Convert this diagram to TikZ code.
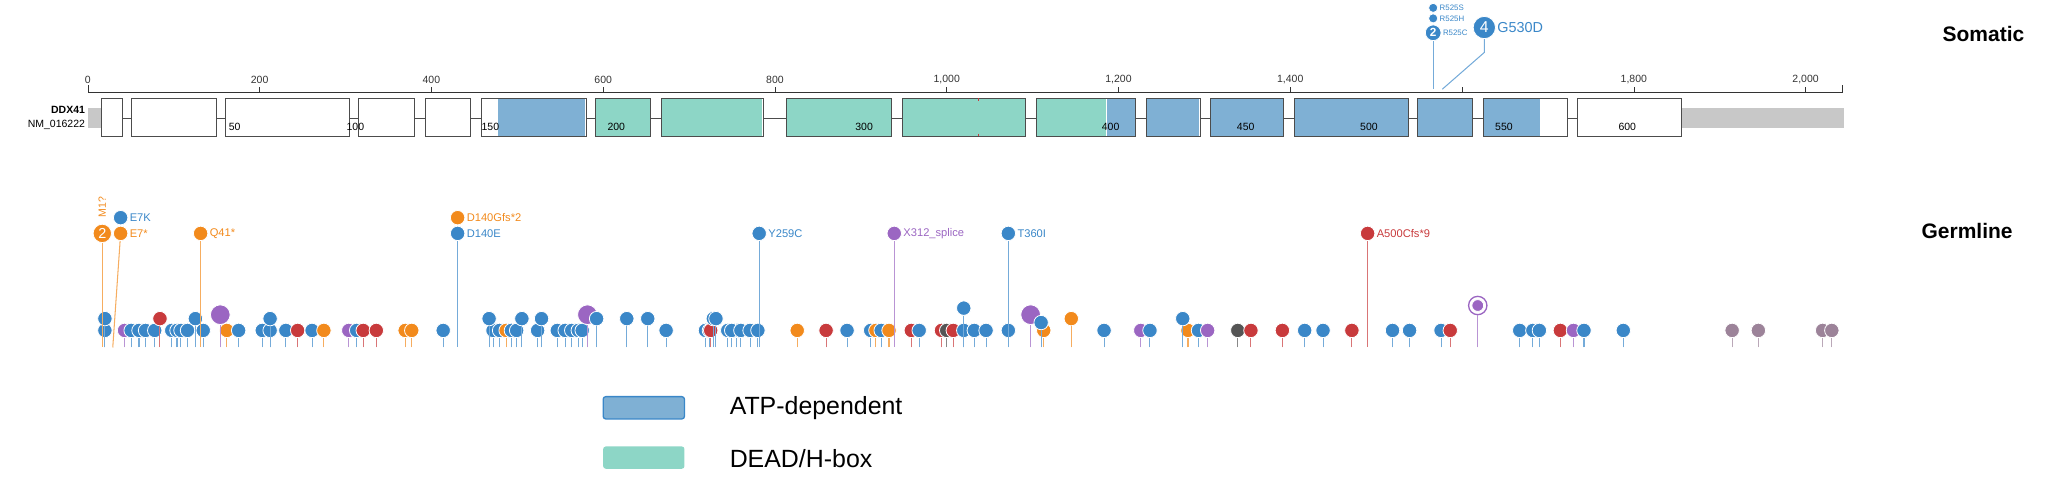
\documentclass[tikz,border=0pt]{standalone}
\usepackage{fontspec}
\setmainfont{Liberation Sans}
\usetikzlibrary{positioning}
\definecolor{domblue}{HTML}{7FB0D4}
\definecolor{domteal}{HTML}{8DD6C6}
\definecolor{mb}{HTML}{3A87C8}
\definecolor{mo}{HTML}{F28A1C}
\definecolor{mr}{HTML}{C83A3C}
\definecolor{mp}{HTML}{9B66C2}
\definecolor{mm}{HTML}{9C8399}
\definecolor{mk}{HTML}{555555}
\definecolor{axisgray}{HTML}{C8C8C8}
\tikzset{
  exon/.style={draw=black!70,fill=white},
  pop/.style={circle,fill=#1,draw=white,line width=0.6pt,inner sep=0pt,minimum size=11pt},
  stem/.style={draw=#1!70,line width=0.8pt},
  tag/.style={font=\fontsize{8.5}{9}\selectfont,text=#1,anchor=west,inner sep=1pt},
  ticklbl/.style={font=\fontsize{8}{9}\selectfont,inner sep=0pt}
}
\begin{document}
\begin{tikzpicture}[x=1pt,y=-1pt]
  \useasboundingbox (0,0) rectangle (1568,366);
  % somatic axis
  \draw[black!80] (67,65) -- (67,70) -- (1405,70) -- (1405,65);
  \foreach \t/\l in {0/0,1/200,2/400,3/600,4/800,5/{1,000},6/{1,200},7/{1,400},9/{1,800},10/{2,000}}
    \draw[black!80] (67+131*\t,70) -- (67+131*\t,66) node[ticklbl,above=2pt] {\l};
  \draw[black!80] (67+131*8,70) -- (67+131*8,66);
  % transcript
  \fill[axisgray] (67,82) rectangle (77,98);
  \fill[axisgray] (1282,82) rectangle (1406,98);
  \draw[black!70] (77,90) -- (1282,90);
  \foreach \a/\b in {77/93,100/165,172/266,273/316,324/359,367/447,454/496,504/582,600/680,688/782,790/866,874/915,923/979,987/1074,1081/1123,1131/1195,1203/1282}
    \draw[exon] (\a,75) rectangle (\b,104);
  % domains
  \fill[domblue] (380,75.5) rectangle (446.5,103.5);
  \foreach \a/\b in {454/496,504/582,600/680,688/782,790/844}
    \fill[domteal] (\a+0.5,75.5) rectangle (\b-0.5,103.5);
  \fill[domblue] (844,75.5) rectangle (865.5,103.5);
  \foreach \a/\b in {874/915,923/979,987/1074,1081/1123,1131/1175}
    \fill[domblue] (\a+0.5,75.5) rectangle (\b-0.5,103.5);
  \foreach \a/\b in {454/496,504/582,600/680,688/782,790/866,874/915,923/979,987/1074,1081/1123,1131/1195}
    \draw[black!70] (\a,75) rectangle (\b,104);
  \draw[mr,line width=1pt] (746,75) -- (746,77) (746,102) -- (746,104);
  \foreach \x/\l in {179/50,271/100,374/150,470/200,659/300,847/400,950/450,1044/500,1147/550,1241/600}
    \node[ticklbl] at (\x,97) {\l};
  \node[font=\fontsize{8}{9}\selectfont\bfseries,anchor=east,inner sep=0pt] (gene) at (65,84) {DDX41};
  \node[font=\fontsize{8}{9}\selectfont,anchor=east,inner sep=0pt] (nm) at (65,95) {NM\_016222};
  % somatic lollipops
  \node[pop=mb,minimum size=12pt,text=white,font=\fontsize{9}{9}\selectfont\bfseries] (s525c) at (1093,25) {2};
  \node[pop=mb,minimum size=7pt] (s525h) at (1093,14) {};
  \node[pop=mb,minimum size=7pt] (s525s) at (1093,6) {};
  \node[tag=mb,font=\fontsize{6}{6}\selectfont] at (s525c.east) {R525C};
  \node[tag=mb,font=\fontsize{6}{6}\selectfont] at (s525h.east) {R525H};
  \node[tag=mb,font=\fontsize{6}{6}\selectfont] at (s525s.east) {R525S};
  \node[pop=mb,minimum size=17pt,text=white,font=\fontsize{12}{12}\selectfont] (s530) at (1132,21) {4};
  \node[tag=mb,font=\fontsize{11}{11}\selectfont] at (s530.east) {G530D};
  \coordinate (b525) at (1093,68);
  \coordinate (b530) at (1100,68);
  \draw[stem=mb] (s525c) -- (b525);
  \draw[stem=mb] (s530) -- (1132,40) -- (b530);
  \node[font=\fontsize{16}{16}\selectfont\bfseries,anchor=west] (somatic) at (1478,26) {Somatic};
  \node[font=\fontsize{16}{16}\selectfont\bfseries,anchor=west] (germline) at (1462,176) {Germline};
  % germline lollipops, lower row
  \foreach \x/\c in {80/mb,95/mp,100/mb,106/mb,111/mb,118/mb,131/mb,135/mb,138/mb,143/mb,155/mb,173/mo,182/mb,200/mb,206/mb,218/mb,227/mr,238/mb,247/mo,266/mp,272/mb,277/mr,287/mr,309/mo,314/mo,338/mb,376/mb,381/mb,386/mo,390/mb,394/mb,410/mb,425/mb,431/mb,436/mb,441/mb,444/mb,508/mb,538/mb,555/mb,562/mb,541/mb,542/mr,558/mb,565/mb,572/mb,578/mb,608/mo,630/mr,646/mb,664/mb,668/mo,672/mb,678/mo,695/mr,701/mb,718/mr,722/mk,727/mr,735/mb,743/mb,752/mb,769/mb,796/mo,842/mb,870/mp,877/mb,906/mo,914/mb,921/mp,944/mk,954/mr,978/mr,995/mb,1009/mb,1031/mr,1062/mb,1075/mb,1099/mb,1106/mr,1159/mb,1169/mb,1174/mb,1190/mr,1200/mp,1208/mb,1238/mb,1321/mm,1341/mm,1390/mm,1397/mm}
  {
    \node[pop=\c] (g\x) at (\x,252) {};
    \draw[stem=\c] (\x,265) -- (g\x);
  }
  % upper row
  \foreach \x/\y/\c/\s in {80/243/mb/11,122/243/mr/11,149/243/mb/11,168/240/mp/15,206/243/mb/11,373/243/mb/11,398/243/mb/11,413/243/mb/11,448/240/mp/15,455/243/mb/11,478/243/mb/11,494/243/mb/11,544/243/mb/11,546/243/mb/11,735/235/mb/11,786/240/mp/15,794/246/mb/11,817/243/mo/11,902/243/mb/11}
  {
    \node[pop=\c,minimum size=\s pt] (u\x) at (\x,\y) {};
    \draw[stem=\c] (\x,265) -- (u\x);
  }
  \node[circle,draw=mp,fill=white,line width=1pt,minimum size=14pt,inner sep=0pt] (ring) at (1127,233) {};
  \node[pop=mp,minimum size=9pt] at (ring) {};
  \draw[stem=mp] (1127,265) -- (ring);
  % labelled germline lollipops
  \node[pop=mo,minimum size=14pt,text=white,font=\fontsize{11}{11}\selectfont] (m1) at (78,178) {2};
  \node[font=\fontsize{8}{9}\selectfont,text=mo,rotate=90,inner sep=0pt] (m1t) at (78,158) {M1?};
  \draw[stem=mo] (m1) -- (78,265);
  \foreach \n/\x/\y/\bx/\c/\l in {1/92/166/0/mb/E7K,2/92/178/86/mo/E7*,3/153/178/153/mo/Q41*,4/349/166/0/mo/D140Gfs*2,5/349/178/349/mb/D140E,6/579/178/579/mb/Y259C,7/682/178/682/mp/X312\_splice,8/769/178/769/mb/T360I,9/1043/178/1043/mr/A500Cfs*9}
  {
    \node[pop=\c] (t\n) at (\x,\y) {};
    \node[tag=\c] (tl\n) at (t\n.east) {\l};
    \ifnum\bx>0 \draw[stem=\c] (t\n) -- (\bx,265); \fi
  }
  % legend
  \node[draw=mb,fill=domblue,rounded corners=2pt,line width=1pt,minimum width=62pt,minimum height=17pt] (lgatp) at (491,311) {};
  \node[font=\fontsize{19}{19}\selectfont,anchor=west] (lgatpt) at (553,311) {ATP-dependent};
  \node[fill=domteal,rounded corners=2pt,minimum width=62pt,minimum height=17pt] (lgdead) at (491,349) {};
  \node[font=\fontsize{19}{19}\selectfont,anchor=west] (lgdeadt) at (553,350) {DEAD/H-box};
\end{tikzpicture}
\end{document}
